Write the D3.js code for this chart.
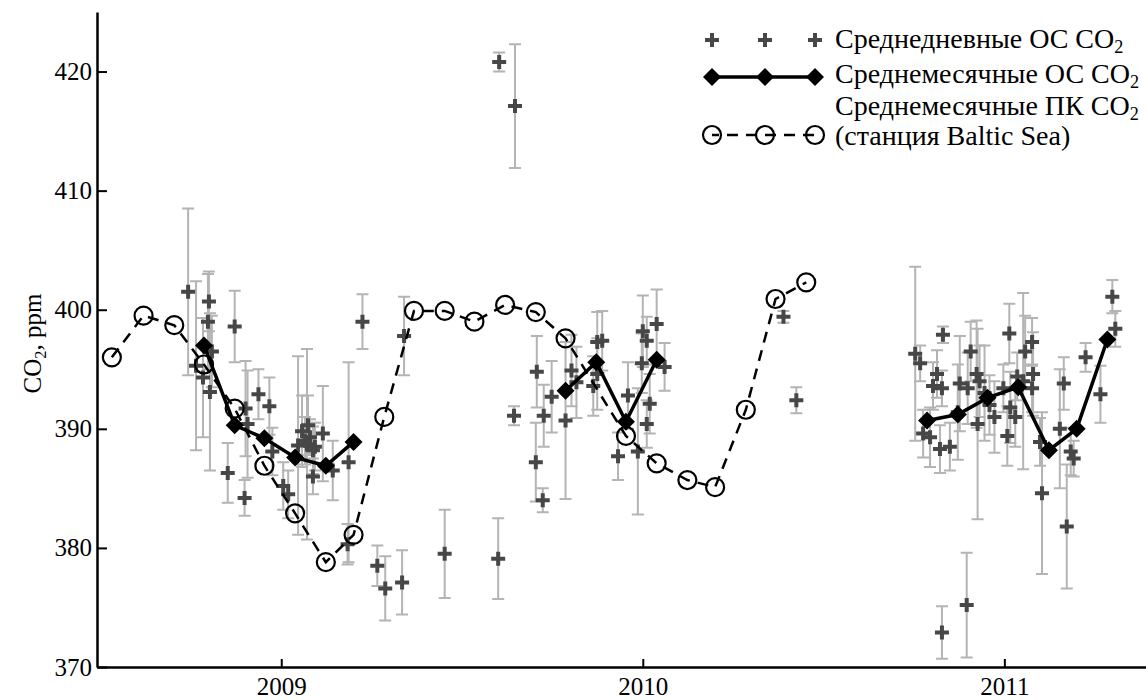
<!DOCTYPE html>
<html>
<head>
<meta charset="utf-8">
<script src="https://cdn.jsdelivr.net/npm/d3@7"></script>
<style>
  html, body { margin: 0; padding: 0; background: #fff; }
  svg, svg text { font-family: "Liberation Serif", "Times New Roman", serif; }
</style>
</head>
<body>
<div id="chart"></div>
<script>
// CO2 concentration: daily / monthly OS means and Baltic Sea monthly PK means.

// --- data -----------------------------------------------------------------

// Monthly PK CO2, Baltic Sea station (open circles, dashed line)
const pkDates = [
    "2008-07-14", "2008-08-15", "2008-09-15", "2008-10-15", "2008-11-15", "2008-12-15",
    "2009-01-15", "2009-02-15", "2009-03-15", "2009-04-15", "2009-05-15", "2009-06-15",
    "2009-07-15", "2009-08-15", "2009-09-15", "2009-10-15", "2009-12-15",
    "2010-01-15", "2010-02-15", "2010-03-15", "2010-04-15", "2010-05-15", "2010-06-15",
];
const pkValues = [
    396.0, 399.5, 398.7, 395.4, 391.7, 386.9,
    382.9, 378.8, 381.1, 391.0, 399.9, 399.9,
    399.0, 400.4, 399.8, 397.6, 389.4,
    387.1, 385.7, 385.1, 391.6, 400.9, 402.3,
];

// Monthly OS CO2 (black diamonds, solid line); null = break in the line
const osDates = [
    "2008-10-15", "2008-11-15", "2008-12-15", "2009-01-15", "2009-02-15", "2009-03-15",
    "2009-06-15",
    "2009-10-15", "2009-11-15", "2009-12-15", "2010-01-15",
    "2010-06-15",
    "2010-10-15", "2010-11-15", "2010-12-15", "2011-01-15", "2011-02-15", "2011-03-15", "2011-04-15",
];
const osValues = [
    397.0, 390.3, 389.2, 387.6, 386.9, 388.9,
    null,
    393.2, 395.6, 390.6, 395.8,
    null,
    390.7, 391.2, 392.6, 393.5, 388.2, 390.0, 397.5,
];

// Daily OS CO2 (crosses) with half-width of the error bar
const dailyDates = [
    "2008-09-29", "2008-10-07", "2008-10-14", "2008-10-19", "2008-10-20", "2008-10-21", "2008-10-23",
    "2008-11-08", "2008-11-15", "2008-11-25", "2008-11-26", "2008-11-28",
    "2008-12-09", "2008-12-20", "2008-12-23",
    "2009-01-03", "2009-01-08", "2009-01-18", "2009-01-22", "2009-01-25", "2009-01-27", "2009-01-28", "2009-01-30",
    "2009-02-02", "2009-02-02", "2009-02-04", "2009-02-12", "2009-02-22",
    "2009-03-09", "2009-03-10", "2009-03-24",
    "2009-04-08", "2009-04-16", "2009-05-03", "2009-05-05",
    "2009-06-15", "2009-08-08", "2009-08-09", "2009-08-24", "2009-08-25",
    "2009-09-15", "2009-09-16", "2009-09-22", "2009-09-23",
    "2009-10-01", "2009-10-15", "2009-10-21", "2009-10-26",
    "2009-11-12", "2009-11-16", "2009-11-16", "2009-11-21",
    "2009-12-07", "2009-12-17", "2009-12-27", "2009-12-31",
    "2010-01-01", "2010-01-05", "2010-01-05", "2010-01-08", "2010-01-15", "2010-01-23",
    "2010-05-23", "2010-06-05",
    "2010-10-03", "2010-10-08", "2010-10-11", "2010-10-18", "2010-10-21", "2010-10-25", "2010-10-28",
    "2010-10-30", "2010-10-30", "2010-10-31",
    "2010-11-07", "2010-11-15", "2010-11-17", "2010-11-24", "2010-11-25", "2010-11-28",
    "2010-12-04", "2010-12-05", "2010-12-07", "2010-12-12", "2010-12-17", "2010-12-22", "2010-12-31",
    "2011-01-04", "2011-01-06", "2011-01-07", "2011-01-12", "2011-01-14", "2011-01-20", "2011-01-22",
    "2011-01-29", "2011-01-29", "2011-01-30",
    "2011-02-06", "2011-02-08", "2011-02-26",
    "2011-03-02", "2011-03-05", "2011-03-09", "2011-03-12", "2011-03-24",
    "2011-04-08", "2011-04-20", "2011-04-23",
];
const dailyValues = [
    401.5, 395.3, 394.3, 399.0, 400.7, 393.1, 396.5,
    386.3, 398.6, 384.2, 391.7, 390.4,
    392.9, 391.9, 388.1,
    385.2, 384.5, 388.6, 389.8, 389.0, 388.7, 390.3, 389.3,
    388.2, 386.0, 388.5, 389.6, 386.5,
    380.3, 387.2, 399.0,
    378.5, 376.6, 377.1, 397.8,
    379.5, 379.1, 420.8, 391.1, 417.1,
    387.2, 394.8, 384.0, 391.1,
    392.7, 390.7, 394.9, 393.9,
    393.6, 397.3, 394.6, 397.4,
    387.7, 392.8, 388.1, 395.5,
    398.2, 397.4, 390.4, 392.1, 398.8, 395.2,
    399.4, 392.4,
    396.3, 395.5, 389.6, 389.3, 393.6, 394.6, 388.3,
    372.9, 393.4, 397.9,
    388.5, 391.4, 393.8, 375.2, 393.4, 396.5,
    394.6, 390.4, 394.0, 393.0, 392.0, 391.0, 393.4,
    389.4, 398.0, 391.8, 391.0, 394.4, 394.0, 396.5,
    397.3, 393.4, 394.6,
    388.9, 384.6, 390.0,
    393.8, 381.8, 388.1, 387.5, 396.0,
    392.9, 401.1, 398.4,
];
const dailyErr = [
    7.0, 7.1, 5.0, 4.0, 2.5, 6.6, 3.0,
    2.5, 3.0, 1.5, 4.0, 4.5,
    2.1, 2.4, 2.0,
    2.0, 2.0, 7.5, 3.0, 2.0, 8.0, 2.5, 1.5,
    2.0, 1.5, 2.0, 4.0, 2.5,
    1.7, 8.4, 2.3,
    1.7, 2.7, 2.7, 3.3,
    3.7, 3.4, 0.8, 0.8, 5.2,
    3.3, 3.0, 1.0, 2.6,
    3.0, 6.6, 3.0, 3.0,
    2.5, 2.5, 3.0, 2.5,
    2.0, 2.8, 5.3, 2.5,
    3.0, 2.0, 2.0, 2.5, 2.9, 2.0,
    0.5, 1.1,
    7.3, 1.5, 2.0, 2.5, 2.0, 2.0, 2.0,
    2.2, 1.5, 0.7,
    2.0, 4.0, 4.0, 4.4, 3.0, 2.5,
    4.5, 8.0, 3.0, 4.0, 2.5, 3.0, 2.0,
    2.5, 2.5, 3.0, 2.5, 2.0, 7.4, 3.0,
    2.0, 2.0, 3.5,
    2.0, 6.8, 5.0,
    2.2, 5.2, 2.0, 1.5, 1.2,
    2.4, 1.4, 1.5,
];

const yTicks = [370, 380, 390, 400, 410, 420];
const xTickDates = ["2009-01-01", "2010-01-01", "2011-01-01"];

const legendLabels = [
    ["Среднедневные ОС CO", "2"],
    ["Среднемесячные ОС CO", "2"],
    ["Среднемесячные ПК CO", "2"],
    ["(станция Baltic Sea)", ""],
];

// --- geometry -------------------------------------------------------------

const WIDTH = 1146;
const HEIGHT = 700;
const LEFT = 97;
const BOTTOM = 667;
const TOP = 12;

const CROSS_COLOR = "#474747";
const ERR_COLOR = "#b4b4b4";
const FONT = "'Liberation Serif', 'Times New Roman', serif";
const FONT_SIZE = 25;
const LEGEND_FONT_SIZE = 28;

const parse = d3.timeParse("%Y-%m-%d");

const x = d3.scaleTime()
    .domain([parse("2008-06-29"), parse("2011-05-24")])
    .range([LEFT, WIDTH]);
const y = d3.scaleLinear()
    .domain([370, 425])
    .range([BOTTOM, TOP]);

const daily = dailyDates.map((d, i) => ({ date: parse(d), v: dailyValues[i], e: dailyErr[i] }));
const pk = pkDates.map((d, i) => ({ date: parse(d), v: pkValues[i] }));
const os = osDates.map((d, i) => ({ date: parse(d), v: osValues[i] }));

const svg = d3.select("#chart")
    .append("svg")
    .attr("width", WIDTH)
    .attr("height", HEIGHT)
    .attr("viewBox", `0 0 ${WIDTH} ${HEIGHT}`);

// --- marks ------------------------------------------------------------------

const crossPath = "M-7,0H7M0,-7V7";
const diamondPath = "M0,-9L9,0L0,9L-9,0Z";

function drawCross(g) {
    g.append("path")
        .attr("d", crossPath)
        .attr("fill", "none")
        .attr("stroke", CROSS_COLOR)
        .attr("stroke-width", 4);
}

// Error bars first, crosses on top of them.
const errG = svg.append("g").attr("class", "errors")
    .attr("stroke", ERR_COLOR)
    .attr("stroke-width", 2)
    .attr("fill", "none");

errG.selectAll("path")
    .data(daily)
    .enter()
    .append("path")
    .attr("d", (d) => {
        const cx = x(d.date);
        const y0 = y(d.v + d.e);
        const y1 = y(d.v - d.e);
        return `M${cx},${y0}V${y1}M${cx - 6},${y0}H${cx + 6}M${cx - 6},${y1}H${cx + 6}`;
    });

svg.append("g").attr("class", "daily")
    .selectAll("g")
    .data(daily)
    .enter()
    .append("g")
    .attr("transform", (d) => `translate(${x(d.date)},${y(d.v)})`)
    .each(function () { drawCross(d3.select(this)); });

// PK monthly: dashed line with open circles
const line = d3.line()
    .defined((d) => d.v != null)
    .x((d) => x(d.date))
    .y((d) => y(d.v));

svg.append("path")
    .datum(pk)
    .attr("d", line)
    .attr("fill", "none")
    .attr("stroke", "#000")
    .attr("stroke-width", 2.5)
    .attr("stroke-dasharray", "11,8");

svg.append("g").attr("class", "pk")
    .selectAll("circle")
    .data(pk)
    .enter()
    .append("circle")
    .attr("cx", (d) => x(d.date))
    .attr("cy", (d) => y(d.v))
    .attr("r", 9)
    .attr("fill", "none")
    .attr("stroke", "#000")
    .attr("stroke-width", 2.2);

// OS monthly: solid line with diamonds
svg.append("path")
    .datum(os)
    .attr("d", line)
    .attr("fill", "none")
    .attr("stroke", "#000")
    .attr("stroke-width", 3.5);

svg.append("g").attr("class", "os")
    .selectAll("path")
    .data(os.filter((d) => d.v != null))
    .enter()
    .append("path")
    .attr("d", diamondPath)
    .attr("transform", (d) => `translate(${x(d.date)},${y(d.v)})`)
    .attr("fill", "#000");

// --- axes -------------------------------------------------------------------

const yAxis = d3.axisLeft(y)
    .tickValues(yTicks)
    .tickSizeInner(-10)
    .tickSizeOuter(0)
    .tickPadding(5)
    .tickFormat(d3.format("d"));

const xAxis = d3.axisBottom(x)
    .tickValues(xTickDates.map(parse))
    .tickSizeInner(-8)
    .tickSizeOuter(0)
    .tickPadding(10)
    .tickFormat(d3.timeFormat("%Y"));

function styleAxis(g) {
    g.attr("font-family", null).attr("font-size", null);
    g.select(".domain").attr("stroke", "#000").attr("stroke-width", 2.5);
    g.selectAll(".tick line").attr("stroke", "#000").attr("stroke-width", 2);
    g.selectAll(".tick text")
        .attr("fill", "#000")
        .style("font-family", FONT)
        .style("font-size", FONT_SIZE + "px");
}

svg.append("g")
    .attr("transform", `translate(0,${BOTTOM})`)
    .call(xAxis)
    .call(styleAxis);

svg.append("g")
    .attr("transform", `translate(${LEFT},0)`)
    .call(yAxis)
    .call(styleAxis);

// Y axis title: CO2, ppm
const yTitle = svg.append("text")
    .attr("transform", `translate(41,${(TOP + BOTTOM) / 2 + 4})rotate(-90)`)
    .attr("text-anchor", "middle")
    .style("font-family", FONT)
    .style("font-size", FONT_SIZE + "px")
    .attr("fill", "#000");
yTitle.append("tspan").text("CO");
yTitle.append("tspan").style("font-size", (FONT_SIZE * 0.65) + "px").attr("dy", "0.3em").text("2");
yTitle.append("tspan").attr("dy", "-0.2em").text(", ppm");

// --- legend -----------------------------------------------------------------

const legend = svg.append("g").attr("class", "legend");
const symX = [712, 765, 815];

// Row 1: crosses
symX.forEach((sx) => {
    const g = legend.append("g").attr("transform", `translate(${sx},40)`);
    drawCross(g);
});

// Row 2: line with diamonds
legend.append("line")
    .attr("x1", symX[0]).attr("x2", symX[2])
    .attr("y1", 77).attr("y2", 77)
    .attr("stroke", "#000").attr("stroke-width", 3.5);
symX.forEach((sx) => {
    legend.append("path")
        .attr("d", diamondPath)
        .attr("transform", `translate(${sx},77)`)
        .attr("fill", "#000");
});

// Row 3: dashed line with circles
legend.append("line")
    .attr("x1", symX[0]).attr("x2", symX[2])
    .attr("y1", 135).attr("y2", 135)
    .attr("stroke", "#000").attr("stroke-width", 2.5)
    .attr("stroke-dasharray", "11,8")
    .attr("stroke-dashoffset", 4);
symX.forEach((sx) => {
    legend.append("circle")
        .attr("cx", sx).attr("cy", 135).attr("r", 9)
        .attr("fill", "none").attr("stroke", "#000").attr("stroke-width", 2.2);
});

const legendBaselines = [48, 83, 115, 145];
legendLabels.forEach(([main, sub], i) => {
    const t = legend.append("text")
        .attr("x", 835)
        .attr("y", legendBaselines[i])
        .style("font-family", FONT)
        .style("font-size", LEGEND_FONT_SIZE + "px")
        .attr("fill", "#000");
    t.append("tspan").text(main);
    if (sub) {
        t.append("tspan").style("font-size", (LEGEND_FONT_SIZE * 0.65) + "px").attr("dy", "0.3em").text(sub);
    }
});
</script>
</body>
</html>
